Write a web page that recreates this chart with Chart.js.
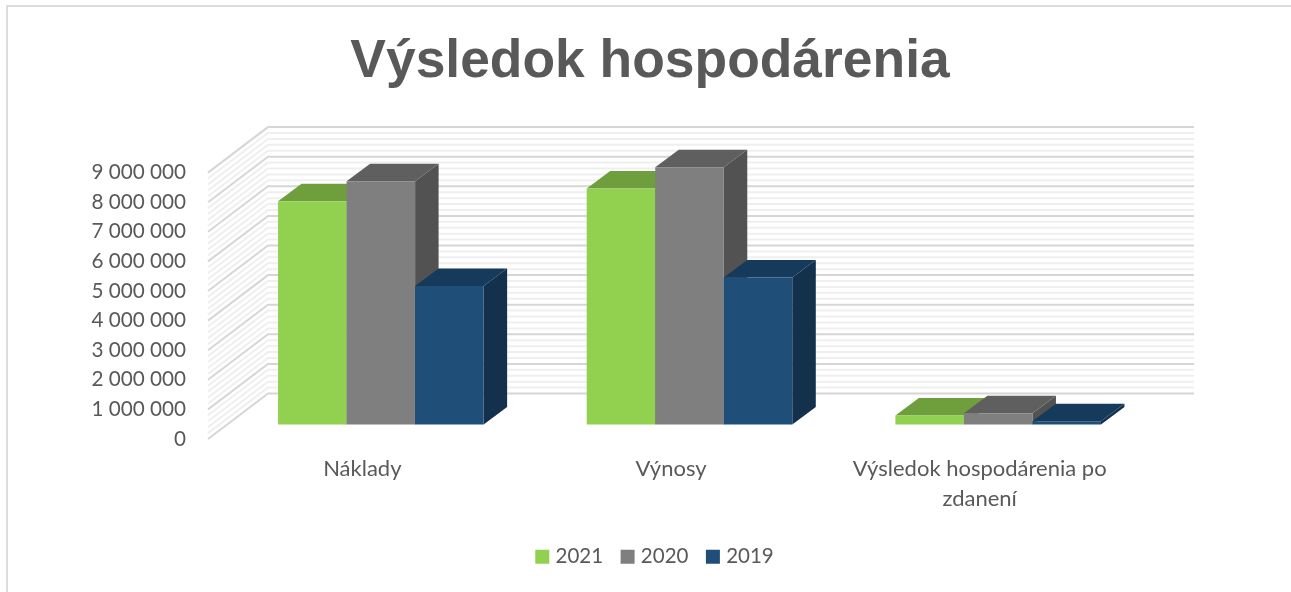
<!DOCTYPE html>
<html>
<head>
<meta charset="utf-8">
<title>Výsledok hospodárenia</title>
<script src="https://cdn.jsdelivr.net/npm/chart.js@4/dist/chart.umd.min.js"></script>
<style>
  html, body { margin: 0; padding: 0; background: #fff; overflow: hidden; }
  #frame { position: absolute; left: 6px; top: 5px; right: 0; bottom: 0; border-left: 2px solid #dcdcdc; border-top: 2px solid #dcdcdc; }
  canvas { position: absolute; left: 0; top: 0; }
</style>
</head>
<body>
<div id="frame"></div>
<canvas id="chart" width="1291" height="592"></canvas>
<script>
// values
const categories = ['Náklady', 'Výnosy', ['Výsledok hospodárenia po', 'zdanení']];
const values2021 = [7540000, 7970000, 300000];
const values2020 = [8220000, 8690000, 380000];
const values2019 = [4680000, 4970000, 110000];
const seriesNames = ['2021', '2020', '2019'];
const tickLabels = ['0', '1 000 000', '2 000 000', '3 000 000', '4 000 000', '5 000 000',
    '6 000 000', '7 000 000', '8 000 000', '9 000 000'];

// front, top and side colours of the boxes
const frontColors = ['#92d14f', '#7f7f7f', '#1f4e79'];
const topColors = ['#6f9e3c', '#5f5f5f', '#163a5b'];
const sideColors = ['#5f8a33', '#525252', '#13304c'];

const textColor = '#595959';
const barShift = { x: 18.5, y: -14.5 };  // bars stand a bit inside the floor
const barDepth = { x: 23.5, y: -17.5 };
const wallShift = { x: 60, y: -45.5 };
const wallRight = 1194;

function poly(ctx, color, pts) {
    ctx.fillStyle = color;
    ctx.beginPath();
    pts.forEach((p, i) => i ? ctx.lineTo(p[0], p[1]) : ctx.moveTo(p[0], p[1]));
    ctx.closePath();
    ctx.fill();
}

const fake3d = {
    id: 'fake3d',
    afterLayout(chart) {
        // title and legend are not centred on the canvas in the original
        chart.titleBlock.left = 9;
        chart.titleBlock.right = 1291;
        chart.legend.left = 22;
        chart.legend.right = 1291;
    },
    beforeDatasetsDraw(chart) {
        const { ctx, chartArea, scales } = chart;
        ctx.save();
        // side wall + back wall, one polyline per tick
        scales.y.ticks.forEach(tick => {
            const y = scales.y.getPixelForValue(tick.value);
            ctx.strokeStyle = tick.value % 1000000 === 0 ? '#d6d6d6' : '#efefef';
            ctx.lineWidth = 2;
            ctx.beginPath();
            ctx.moveTo(chartArea.left, y);
            ctx.lineTo(chartArea.left + wallShift.x, y + wallShift.y);
            ctx.lineTo(wallRight, y + wallShift.y);
            ctx.stroke();
        });
        // boxes, left to right so the later bar covers the earlier one
        chart.data.datasets.forEach((ds, i) => {
            chart.getDatasetMeta(i).data.forEach(bar => {
                const l = bar.x - bar.width / 2 + barShift.x;
                const r = bar.x + bar.width / 2 + barShift.x;
                const t = bar.y + barShift.y;
                const b = bar.base + barShift.y;
                const dx = barDepth.x, dy = barDepth.y;
                poly(ctx, sideColors[i], [[r, t], [r + dx, t + dy], [r + dx, b + dy], [r, b]]);
                poly(ctx, topColors[i], [[l, t], [l + dx, t + dy], [r + dx, t + dy], [r, t]]);
                poly(ctx, frontColors[i], [[l, t], [r, t], [r, b], [l, b]]);
            });
        });
        ctx.restore();
    },
    // the normal flat bars are replaced by the boxes above
    beforeDatasetDraw() {
        return false;
    }
};

new Chart(document.getElementById('chart'), {
    type: 'bar',
    data: {
        labels: categories,
        datasets: [
            { label: seriesNames[0], data: values2021, backgroundColor: frontColors[0] },
            { label: seriesNames[1], data: values2020, backgroundColor: frontColors[1] },
            { label: seriesNames[2], data: values2019, backgroundColor: frontColors[2] }
        ]
    },
    options: {
        responsive: false,
        animation: false,
        layout: { padding: { left: 0, right: 157, top: 0, bottom: 15 } },
        datasets: { bar: { barPercentage: 1, categoryPercentage: 0.666 } },
        scales: {
            x: {
                grid: { display: false, drawTicks: false },
                border: { display: false },
                ticks: {
                    color: textColor,
                    font: { family: 'Lato', size: 22, lineHeight: 1.36 },
                    padding: 15,
                    maxRotation: 0
                },
                afterFit(scale) { scale.height = 86; }
            },
            y: {
                min: 0,
                max: 9000000,
                grid: { display: false, drawTicks: false },
                border: { display: false },
                ticks: {
                    stepSize: 200000,
                    autoSkip: false,
                    color: textColor,
                    font: { family: 'Lato', size: 20.7 },
                    padding: 22,
                    callback: v => v % 1000000 === 0 ? tickLabels[v / 1000000] : ''
                },
                afterFit(scale) { scale.width = 208; }
            }
        },
        plugins: {
            title: {
                display: true,
                text: 'Výsledok hospodárenia',
                color: textColor,
                font: { family: 'Liberation Sans', size: 53.4, weight: 'bold' },
                padding: { top: 30, bottom: 78.5 }
            },
            legend: {
                position: 'bottom',
                labels: {
                    color: textColor,
                    font: { family: 'Lato', size: 20.5 },
                    usePointStyle: true,
                    pointStyle: 'rect',
                    boxWidth: 6,
                    boxHeight: 14,
                    padding: 21.5
                }
            },
            tooltip: { enabled: false }
        }
    },
    plugins: [fake3d]
});
</script>
</body>
</html>
